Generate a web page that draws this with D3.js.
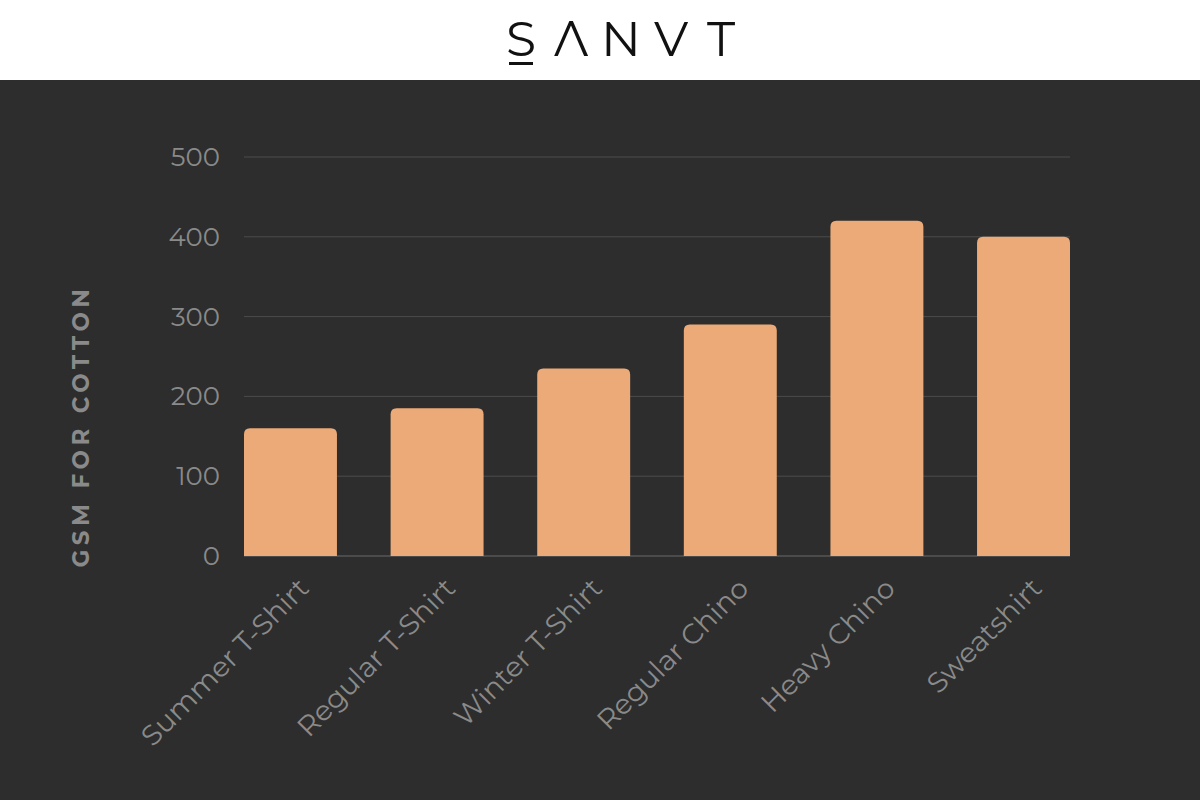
<!DOCTYPE html>
<html><head><meta charset="utf-8">
<script src="https://cdn.jsdelivr.net/npm/d3@7"></script>
<style>body{margin:0;background:#fff}svg{display:block}</style>
</head><body>
<svg id="c" width="1200" height="800"></svg>
<script>
const categories = ["Summer T-Shirt","Regular T-Shirt","Winter T-Shirt","Regular Chino","Heavy Chino","Sweatshirt"];
const values = [160,185,235,290,420,400];
const yTicks = [0,100,200,300,400,500];

const svg = d3.select("#c");
svg.append("rect").attr("x",0).attr("y",80).attr("width",1200).attr("height",720).attr("fill","#2d2d2d");

const logo = svg.append("g").attr("font-family","Montserrat, 'Open Sans', sans-serif").attr("fill","#111");
const letters = ["S","Λ","N","V","T"];
const lx = d3.scalePoint().domain(d3.range(5)).range([521,721]);
letters.forEach((l,i)=>logo.append("text").attr("x",lx(i)).attr("y",56).attr("text-anchor","middle")
  .attr("font-size",49).attr("font-weight",400).text(l));
svg.append("rect").attr("x",509).attr("y",62).attr("width",24).attr("height",3).attr("fill","#111");

const x = d3.scaleBand().domain(categories).range([244,1070]).paddingInner(0.366).paddingOuter(0);
const y = d3.scaleLinear().domain([0,500]).range([556,157]);

const g = svg.append("g");
g.selectAll("line.grid").data(yTicks).join("line")
  .attr("x1",244).attr("x2",1070).attr("y1",d=>y(d)).attr("y2",d=>y(d))
  .attr("stroke",d=>d===0?"#6a6a6a":"#4c4c4c").attr("stroke-width",1);
g.selectAll("text.yt").data(yTicks).join("text")
  .attr("x",220).attr("y",d=>y(d)+9).attr("text-anchor","end")
  .attr("font-family","Montserrat, 'Open Sans', sans-serif").attr("font-size",26).attr("fill","#8a8a8a").text(d=>d);

const r = 6;
g.selectAll("path.bar").data(values).join("path")
  .attr("fill","#ebaa77")
  .attr("d",(d,i)=>{
    const x0=x(categories[i]), w=x.bandwidth(), y0=y(d), yb=y(0);
    return `M${x0},${yb}V${y0+r}Q${x0},${y0} ${x0+r},${y0}H${x0+w-r}Q${x0+w},${y0} ${x0+w},${y0+r}V${yb}Z`;
  });

g.selectAll("text.xl").data(categories).join("text")
  .attr("transform",d=>`translate(${x(d)+x.bandwidth()/2+20},${590}) rotate(-45)`)
  .attr("text-anchor","end")
  .attr("font-family","Montserrat, 'Open Sans', sans-serif").attr("font-size",28).attr("fill","#8a8a8a").text(d=>d);

svg.append("text").attr("transform","translate(89,426) rotate(-90)").attr("text-anchor","middle")
  .attr("font-family","Montserrat, 'Open Sans', sans-serif").attr("font-size",23).attr("font-weight",700)
  .attr("letter-spacing",4.5).attr("fill","#8a8a8a").text("GSM FOR COTTON");
</script>
</body></html>
